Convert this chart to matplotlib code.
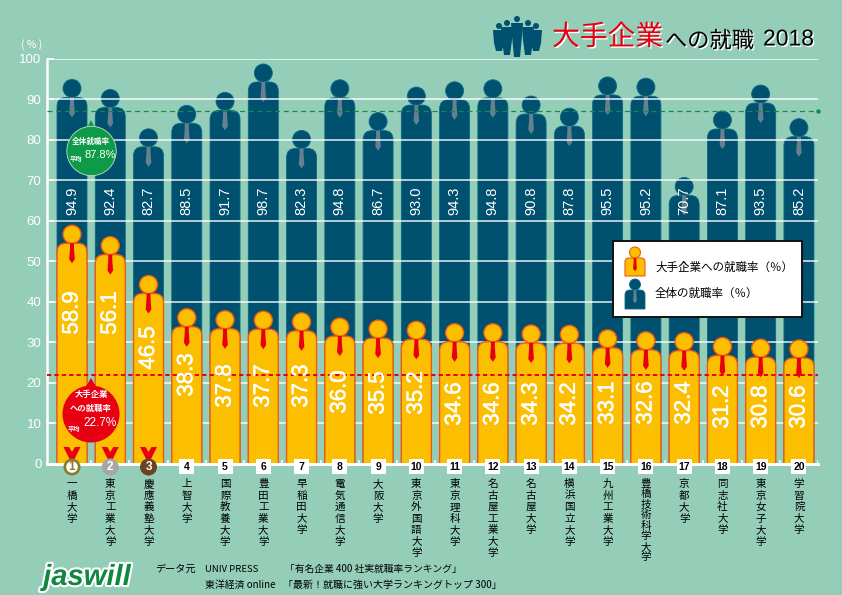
"""
Recreates the jaswill chart: employment rate at major companies, 2018.
"""

import matplotlib
matplotlib.use("Agg")
import matplotlib.pyplot as plt
import matplotlib.patheffects as pe
from matplotlib.patches import Circle, Ellipse, PathPatch, Polygon, Rectangle
from matplotlib.path import Path

plt.rcParams['font.family'] = ['Noto Sans CJK JP', 'DejaVu Sans']

universities = ['一橋大学', '東京工業大学', '慶應義塾大学', '上智大学', '国際教養大学', '豊田工業大学',
                '早稲田大学', '電気通信大学', '大阪大学', '東京外国語大学', '東京理科大学', '名古屋工業大学',
                '名古屋大学', '横浜国立大学', '九州工業大学', '豊橋技術科学大学', '京都大学', '同志社大学',
                '東京女子大学', '学習院大学']
major_rate = [58.9, 56.1, 46.5, 38.3, 37.8, 37.7, 37.3, 36.0, 35.5, 35.2,
              34.6, 34.6, 34.3, 34.2, 33.1, 32.6, 32.4, 31.2, 30.8, 30.6]
overall_rate = [94.9, 92.4, 82.7, 88.5, 91.7, 98.7, 82.3, 94.8, 86.7, 93.0,
                94.3, 94.8, 90.8, 87.8, 95.5, 95.2, 70.7, 87.1, 93.5, 85.2]
y_ticks = [0, 10, 20, 30, 40, 50, 60, 70, 80, 90, 100]
overall_avg_line = 87
major_avg_line = 22
medal_colors = ['#8C7A2E', '#A6A6A6', '#6B4423']

# layout: vertical centre of the big white labels, in figure pixels
LABEL_PX = [313, 313, 348, 375, 386, 386, 386, 392, 393, 393,
            404, 404, 404, 404, 403, 403, 403, 407, 407, 407]

BG = '#94CEB8'
NAVY = '#00506F'
GOLD = '#FBBF00'
RED = '#E60012'
GREEN = '#0E9A48'

W, H = 842, 595
fig = plt.figure(figsize=(W / 100, H / 100), dpi=100, facecolor=BG)

# axes laid out so data space lands on the reference's pixel grid
left, right, bottom, top = 47, 818, 464, 58.7
ax = fig.add_axes([left / W, 1 - bottom / H, (right - left) / W, (bottom - top) / H])
ax.set_facecolor('none')
x0, step = 72, 38.26
ax.set_xlim((left - x0) / step, (right - x0) / step)
ax.set_ylim(0, 100)
px_x = 1 / step
px_y = 100 / (bottom - top)

# overlay in figure pixels for the decoration outside the data
ov = fig.add_axes([0, 0, 1, 1], zorder=10)
ov.set_xlim(0, W)
ov.set_ylim(H, 0)
ov.axis('off')


def person(target, cx, value, ux, uy, color, tie, edge, lw, z, body_w=30, head=18, round_r=9, base=0):
    """Draws head, rounded body and tie; value marks the top of the head."""
    k = body_w / 30
    body_top = value - head * uy
    hw = body_w / 2 * ux
    rx, ry = round_r * ux, round_r * uy
    verts = [(cx - hw, base), (cx - hw, body_top - ry), (cx - hw, body_top), (cx - hw + rx, body_top),
             (cx + hw - rx, body_top), (cx + hw, body_top), (cx + hw, body_top - ry), (cx + hw, base),
             (cx - hw, base)]
    codes = [Path.MOVETO, Path.LINETO, Path.CURVE3, Path.CURVE3, Path.LINETO, Path.CURVE3, Path.CURVE3,
             Path.LINETO, Path.CLOSEPOLY]
    target.add_patch(PathPatch(Path(verts, codes), facecolor=color, edgecolor=edge, lw=lw, zorder=z))
    target.add_patch(Ellipse((cx, value - head / 2 * uy), head * ux, head * uy, facecolor=color,
                             edgecolor=edge, lw=lw, zorder=z + 0.1))
    tw = 2 * k * ux
    tie_pts = [(cx - tw, body_top), (cx + tw, body_top), (cx + tw, body_top - 5 * k * uy),
               (cx + 1.4 * tw, body_top - 16 * k * uy), (cx, body_top - 20 * k * uy),
               (cx - 1.4 * tw, body_top - 16 * k * uy), (cx - tw, body_top - 5 * k * uy)]
    target.add_patch(Polygon(tie_pts, closed=True, facecolor=tie, edgecolor='none', zorder=z + 0.2))


for i, v in enumerate(overall_rate):
    person(ax, i, v, px_x, px_y, NAVY, '#66808F', '#0B6A86', 0.6, 2)
    ax.text(i, 64.9, f'{v:.1f}', rotation=90, color='white', ha='center', va='center',
            family='Liberation Sans', fontsize=10.5, zorder=5)

for y in y_ticks[1:]:
    ax.plot(ax.get_xlim(), [y, y], color='white', lw=1.1, alpha=0.9, zorder=3, solid_capstyle='butt')

thicken = [pe.withStroke(linewidth=0.35, foreground='white')]
for i, v in enumerate(major_rate):
    person(ax, i, v, px_x, px_y, GOLD, RED, '#F05A14', 1.0, 6)
    ov.text(x0 + i * step, LABEL_PX[i], f'{v:.1f}', rotation=90, color='white', ha='center', va='center',
            family='Liberation Sans', fontsize=16, zorder=2, path_effects=thicken)

ax.plot(ax.get_xlim(), [overall_avg_line] * 2, color='#0E8F45', lw=0.9, ls=(0, (4, 3)), zorder=9)
ax.plot([ax.get_xlim()[1]], [overall_avg_line], 'o', color='#0E8F45', ms=2.2, clip_on=False, zorder=9)
ax.plot(ax.get_xlim(), [major_avg_line] * 2, color=RED, lw=1.4, ls=(0, (2.2, 1.6)), zorder=9)

# left spine and ticks
for s in ['top', 'right', 'bottom']:
    ax.spines[s].set_visible(False)
ax.spines['left'].set_color('white')
ax.spines['left'].set_linewidth(1.8)
ax.set_yticks(y_ticks)
ax.set_yticklabels(y_ticks, color='white', fontsize=9.5, family='Liberation Sans')
ax.tick_params(axis='y', direction='in', color='white', width=1.2, length=5, pad=4)
ax.set_xticks([])
ax.plot(ax.get_xlim(), [0, 0], color='white', lw=2.2, zorder=9, clip_on=False)
for i in range(len(universities)):
    ax.plot([i + 0.5, i + 0.5], [0, 3 * px_y], color='white', lw=1.2, zorder=9)
ov.text(32, 45, '( % )', color='white', fontsize=7.5, ha='center', va='center')

# rank marks and vertical university names
for i, name in enumerate(universities):
    cx = x0 + i * step
    if i < 3:
        ov.add_patch(Polygon([(cx - 8.5, 447), (cx - 3, 447), (cx, 452), (cx + 3, 447), (cx + 8.5, 447),
                              (cx + 1.5, 461), (cx - 1.5, 461)],
                             closed=True, facecolor=RED, edgecolor='none'))
        ov.add_patch(Circle((cx, 467), 8.5, facecolor=medal_colors[i], edgecolor='none', zorder=3))
        ov.add_patch(Circle((cx, 467), 5.8, facecolor='white' if i == 0 else medal_colors[i], edgecolor='none',
                            zorder=3.1))
        ov.text(cx, 467, str(i + 1), color=medal_colors[i] if i == 0 else 'white', ha='center', va='center',
                fontsize=8.5, fontweight='bold', family='Liberation Sans', zorder=4)
    else:
        ov.add_patch(Rectangle((cx - 7.5, 459), 15, 15, facecolor='white', edgecolor='none', zorder=3))
        ov.text(cx, 466.5, str(i + 1), color='black', ha='center', va='center', fontsize=7.5,
                fontweight='bold', family='Liberation Sans', zorder=4)
    spacing = 1.19 if len(name) < 8 else 1.06
    ov.text(cx, 479, '\n'.join(name), color='black', ha='center', va='top', fontsize=7.6, linespacing=spacing)

# average callouts
ov.add_patch(Polygon([(86, 130), (91, 120), (96, 130)], closed=True, facecolor=GREEN, edgecolor='none', zorder=3))
ov.add_patch(Circle((91.5, 151), 24.7, facecolor=GREEN, edgecolor='#BFE3D0', lw=0.6, zorder=3))
ov.text(91, 141, '全体就職率', color='white', fontsize=5.5, fontweight='bold', ha='center', va='center', zorder=4)
ov.text(75.5, 158, '平均', color='white', fontsize=4.5, fontweight='bold', ha='center', va='center', zorder=4)
ov.text(100.5, 155, '87.8%', color='white', fontsize=8, family='Liberation Sans', ha='center', va='center', zorder=4)

ov.add_patch(Polygon([(85, 388), (91, 378), (97, 388)], closed=True, facecolor=RED, edgecolor='none', zorder=3))
ov.add_patch(Circle((91, 414), 28.5, facecolor=RED, edgecolor='none', zorder=3))
ov.text(91, 395, '大手企業', color='white', fontsize=6, fontweight='bold', ha='center', va='center', zorder=4)
ov.text(91, 408, 'への就職率', color='white', fontsize=6, fontweight='bold', ha='center', va='center', zorder=4)
ov.text(74, 428, '平均', color='white', fontsize=4.5, fontweight='bold', ha='center', va='center', zorder=4)
ov.text(100, 423, '22.7%', color='white', fontsize=8.5, family='Liberation Sans', ha='center', va='center', zorder=4)

# legend box
ov.add_patch(Rectangle((613, 241), 189, 76, facecolor='white', edgecolor='#111111', lw=1.4, zorder=4))
person(ov, 635, 247, 1, -1, GOLD, RED, '#F05A14', 0.8, 5, body_w=20, head=11, round_r=4, base=276)
person(ov, 635, 279, 1, -1, NAVY, '#66808F', '#0B6A86', 0.6, 5, body_w=20, head=11, round_r=5, base=309)
ov.text(655, 267, '大手企業への就職率（％）', color='black', fontsize=8.3, va='center', zorder=6)
ov.text(655, 293, '全体の就職率（％）', color='black', fontsize=8.3, va='center', zorder=6)

# title and crowd icon
shadow = [pe.SimplePatchShadow(offset=(1, -1), shadow_rgbFace='white', alpha=1.0), pe.Normal()]
ov.text(552, 37, '大手企業', color=RED, fontsize=20, va='center', path_effects=shadow)
ov.text(665, 41, 'への就職', color='black', fontsize=16, va='center', path_effects=shadow)
ov.text(763, 39, '2018', color='black', fontsize=16.5, family='Liberation Sans', va='center', path_effects=shadow)
crowd_x = [499, 507, 528, 536, 517]
crowd_top = [23, 20, 20, 23, 16]
crowd_bot = [51, 55, 55, 51, 57]
for cx, t, b in zip(crowd_x, crowd_top, crowd_bot):
    ov.add_patch(Circle((cx, t + 3), 3, facecolor=NAVY, edgecolor='none'))
    ov.add_patch(Polygon([(cx - 6, t + 7), (cx + 6, t + 7), (cx + 5, t + 20), (cx + 3, b), (cx - 3, b),
                          (cx - 5, t + 20)], closed=True, facecolor=NAVY, edgecolor='none'))

# logo and footnote
ov.text(87, 577, 'jaswill', color='#12873F', fontsize=21, fontweight='bold', style='italic',
        family='Liberation Sans', ha='center', va='center',
        path_effects=[pe.withStroke(linewidth=3, foreground='white')])
ov.text(155, 569, 'データ元', color='black', fontsize=7.3, va='center')
ov.text(205, 569, 'UNIV PRESS', color='black', fontsize=6.8, va='center')
ov.text(285, 569, '「有名企業 400 社実就職率ランキング」', color='black', fontsize=7, va='center')
ov.text(205, 585, '東洋経済 online', color='black', fontsize=7.1, va='center')
ov.text(283, 585, '「最新！就職に強い大学ランキングトップ 300」', color='black', fontsize=7.2, va='center')

fig.savefig('out.png', dpi=100, facecolor=BG)
